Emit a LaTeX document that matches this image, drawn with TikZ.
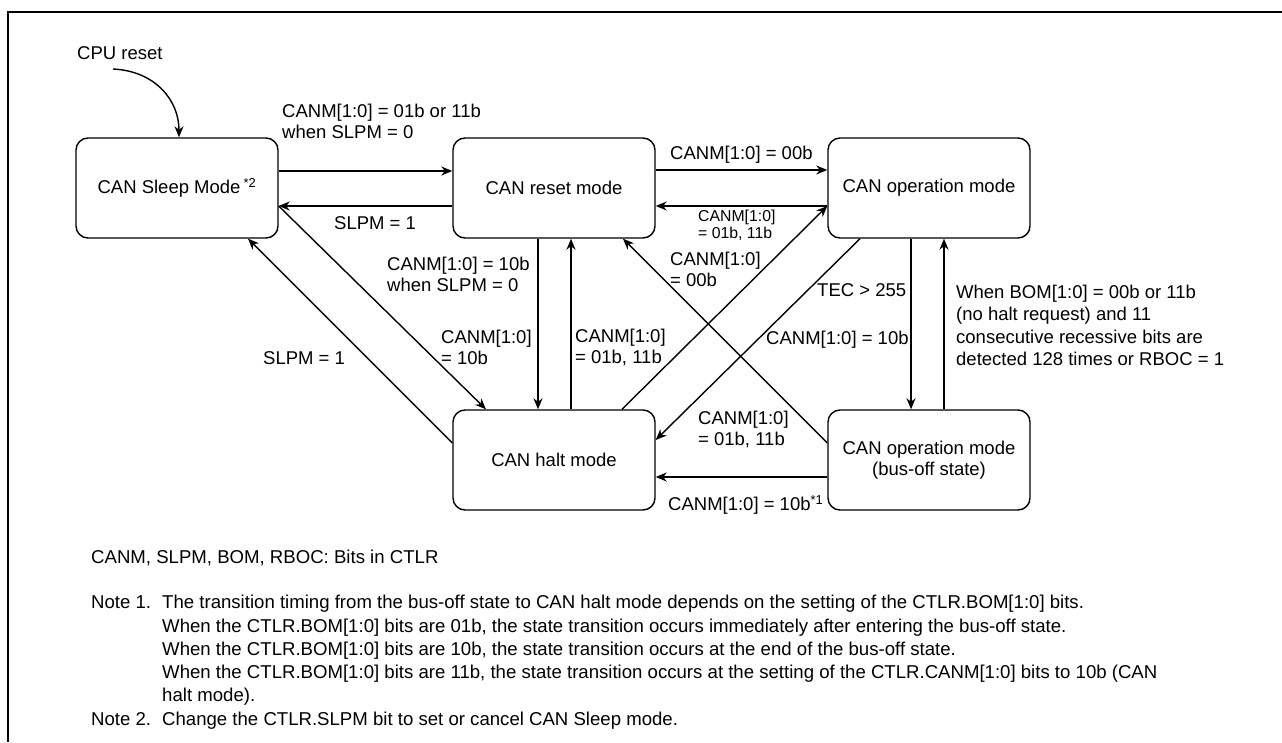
\documentclass[tikz,border=0pt]{standalone}
\usepackage{fontspec}
\setmainfont{Liberation Sans}
\usetikzlibrary{arrows.meta}
\newcommand\lblfont{\fontsize{18.5}{21}\selectfont}
\newcommand\smlfont{\fontsize{15.8}{16.5}\selectfont}
\newcommand\bomfont{\fontsize{18.5}{22.3}\selectfont}
\newcommand\notefont{\fontsize{18.6}{23.3}\selectfont}
\begin{document}
\begin{tikzpicture}[x=1pt,y=-1pt,
  state/.style={draw, line width=1.4pt, rounded corners=12pt, minimum width=202pt, minimum height=100pt, inner sep=0pt, align=center, font=\lblfont},
  lab/.style={inner sep=0pt, anchor=west, align=left, font=\lblfont},
  note/.style={inner sep=0pt, anchor=west, align=left, font=\notefont},
  conn/.style={line width=1.4pt, -{Stealth[length=11pt,width=9pt,inset=3.5pt]}},
  frame/.style={line width=2.7pt}]
\useasboundingbox (0,0) rectangle (1282,742);
\draw[frame] (1282,12) -- (8,12) -- (8,742);

% states
\node[state] (sleep)  at (177,188) {CAN Sleep Mode\,\textsuperscript{*2}};
\node[state] (reset)  at (554,188) {CAN reset mode};
\node[state] (oper)   at (929,188) {CAN operation mode};
\node[state] (halt)   at (554,460) {CAN halt mode};
\node[state] (busoff) at (929,460) {CAN operation mode\\(bus-off state)};

% CPU reset
\node[lab] (cpu) at (77,53) {CPU reset};
\coordinate (cpustart) at (113,69);
\draw[conn] (cpustart) .. controls (155,71) and (179,100) .. ([xshift=2pt]sleep.north);

% connectors
\draw[conn] ([yshift=17pt]sleep.east) -- ([yshift=17pt]reset.west);
\draw[conn] ([yshift=-18pt]reset.west) -- ([yshift=-18pt]sleep.east);
\draw[conn] ([yshift=18pt]reset.east) -- ([yshift=18pt]oper.west);
\draw[conn] ([yshift=-18pt]oper.west) -- ([yshift=-18pt]reset.east);
\draw[conn] ([xshift=-16pt]reset.south) -- ([xshift=-16pt]halt.north);
\draw[conn] ([xshift=17pt]halt.north) -- ([xshift=17pt]reset.south);
\draw[conn] ([xshift=-18pt]oper.south) -- ([xshift=-18pt]busoff.north);
\draw[conn] ([xshift=15pt]busoff.north) -- ([xshift=15pt]oper.south);
\draw[conn] ([yshift=-17pt]busoff.west) -- ([yshift=-17pt]halt.east);
\draw[conn] ([yshift=-18pt]sleep.east) -- ([xshift=-68pt]halt.north);
\draw[conn] ([yshift=17pt]halt.west) -- ([xshift=71pt]sleep.south);
\draw[conn] ([xshift=68pt]halt.north) -- ([yshift=-18pt]oper.west);
\draw[conn] ([xshift=-69pt]oper.south) -- ([yshift=20pt]halt.east);
\draw[conn] ([yshift=17pt]busoff.west) -- ([xshift=69pt]reset.south);

% labels
\node[lab] (la) at (282,121) {CANM[1:0] = 01b or 11b\\when SLPM = 0};
\node[lab] (lb) at (334,223) {SLPM = 1};
\node[lab] (lc) at (670,155) {CANM[1:0] = 00b};
\node[lab, font=\smlfont] (ld) at (698,225.5) {CANM[1:0]\\= 01b, 11b};
\node[lab] (le) at (387,274.5) {CANM[1:0] = 10b\\when SLPM = 0};
\node[lab] (lf) at (670,269) {CANM[1:0]\\= 00b};
\node[lab] (lg) at (817,290) {TEC > 255};
\node[lab] (lh) at (441,347.5) {CANM[1:0]\\= 10b};
\node[lab] (li) at (575,347.5) {CANM[1:0]\\= 01b, 11b};
\node[lab] (lj) at (766,340) {CANM[1:0] = 10b};
\node[lab] (lk) at (263,358) {SLPM = 1};
\node[lab, font=\bomfont] (ll) at (956,325.5) {When BOM[1:0] = 00b or 11b\\(no halt request) and 11\\consecutive recessive bits are\\detected 128 times or RBOC = 1};
\node[lab] (lm) at (698,429) {CANM[1:0]\\= 01b, 11b};
\node[lab] (ln) at (668,505) {CANM[1:0] = 10b\textsuperscript{*1}};

% notes
\node[note] (bits) at (91,558) {CANM, SLPM, BOM, RBOC: Bits in CTLR};
\node[note, anchor=base west] (notes) at (91,608.7) {\begin{tabular}[t]{@{}p{71pt}@{}l@{}}
Note 1. & The transition timing from the bus-off state to CAN halt mode depends on the setting of the CTLR.BOM[1:0] bits.\\
 & When the CTLR.BOM[1:0] bits are 01b, the state transition occurs immediately after entering the bus-off state.\\
 & When the CTLR.BOM[1:0] bits are 10b, the state transition occurs at the end of the bus-off state.\\
 & When the CTLR.BOM[1:0] bits are 11b, the state transition occurs at the setting of the CTLR.CANM[1:0] bits to 10b (CAN\\
 & halt mode).\\
Note 2. & Change the CTLR.SLPM bit to set or cancel CAN Sleep mode.
\end{tabular}};
\end{tikzpicture}
\end{document}
